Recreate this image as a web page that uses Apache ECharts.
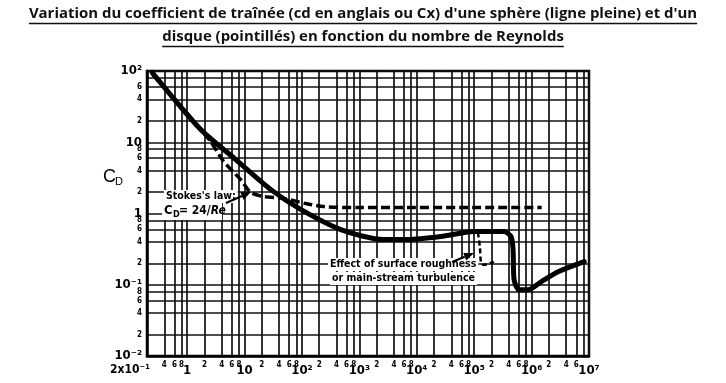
<!DOCTYPE html>
<html><head><meta charset="utf-8">
<script src="https://cdn.jsdelivr.net/npm/echarts@6/dist/echarts.min.js"></script>
<style>html,body{margin:0;padding:0;background:#fff}#c{width:726px;height:383px}</style>
</head><body><div id="c"></div>
<script>
// ---------- data ----------
const titleLines = [
  "Variation du coefficient de traînée (cd en anglais ou Cx) d'une sphère (ligne pleine) et d'un",
  "disque (pointillés) en fonction du nombre de Reynolds"
];
const xTicks = [0.2,0.4,0.6,0.8,1,2,4,6,8,10,20,40,60,80,100,200,400,600,800,1e3,2e3,4e3,6e3,8e3,1e4,2e4,4e4,6e4,8e4,1e5,2e5,4e5,6e5,8e5,1e6,2e6,4e6,6e6,8e6,1e7];
const xTickLabels = ['2x10⁻¹','4','6','8','1','2','4','6','8','10','2','4','6','8','10²','2','4','6','8','10³','2','4','6','8','10⁴','2','4','6','8','10⁵','2','4','6','8','10⁶','2','4','6','8','10⁷'];
const yTicks = [0.01,0.02,0.04,0.06,0.08,0.1,0.2,0.4,0.6,0.8,1,2,4,6,8,10,20,40,60,80,100];
const yTickLabels = ['10⁻²','2','4','6','8','10⁻¹','2','4','6','8','1','2','4','6','8','10','2','4','6','8','10²'];

// sphere (solid line)
const sphereRe = [0.245, 1.71, 6.96, 28.4, 94.9, 473, 2670, 7000, 26400, 99300, 331000, 439000, 476000, 495000, 605000, 869000, 1.47e6, 2.9e6, 8.26e6];
const sphereCd = [95.9, 15.2, 5.76, 2.18, 1.14, 0.595, 0.43, 0.43, 0.474, 0.558, 0.558, 0.474, 0.311, 0.118, 0.085, 0.085, 0.110, 0.152, 0.211];
// disk (dashed line)
const diskRe = [0.25, 1.14, 2.55, 4.3, 8.5, 12.7, 20.6, 48, 116, 240, 940, 1.5e6];
const diskCd = [90, 22.5, 10.3, 5.4, 3.01, 1.98, 1.74, 1.63, 1.38, 1.25, 1.21, 1.21];
// effect of surface roughness (short dashed branch)
const roughRe = [116500, 126000, 131000, 145000, 220000];
const roughCd = [0.54, 0.33, 0.21, 0.19, 0.21];

// ---------- helpers ----------
const zip = (a, b) => a.map((v, i) => [v, b[i]]);
function tickLabel(v, ticks, labels) {
  for (let i = 0; i < ticks.length; i++) {
    if (Math.abs(Math.log10(v) - Math.log10(ticks[i])) < 1e-4) {
      const t = labels[i];
      if (i === 0 && ticks === xTicks) return '{f|' + t + '}';
      return (t.length > 1 || t === '1') ? '{d|' + t + '}' : '{m|' + t + '}';
    }
  }
  return '';
}
const labelFont = "'Liberation Sans Narrow','DejaVu Sans Condensed','Liberation Sans',sans-serif";
const richX = {
  d: {fontSize: 13, fontWeight: 'bold', fontFamily: labelFont, color: '#000', padding: [3, 0, 0, 0]},
  m: {fontSize: 8, fontWeight: 'bold', fontFamily: labelFont, color: '#000'},
  f: {fontSize: 12, fontWeight: 'bold', fontFamily: labelFont, color: '#000', padding: [3, 34, 0, 0]}
};
const richY = {
  d: {fontSize: 13, fontWeight: 'bold', fontFamily: labelFont, color: '#000'},
  m: {fontSize: 8, fontWeight: 'bold', fontFamily: labelFont, color: '#000'}
};

// title measurement
const titleFamily = "'Open Sans','Noto Sans',sans-serif";
const cv = document.createElement('canvas').getContext('2d');
cv.font = "bold 15px " + titleFamily;
const w15 = cv.measureText(titleLines[0]).width;
const titleSize = 15 * 669 / w15;
cv.font = "bold " + titleSize + "px " + titleFamily;
const tw = titleLines.map(t => cv.measureText(t).width);
const cx = 363;
const titleY = [14, 37];
const underY = [23.5, 46.5];

function arrow(x1, y1, x2, y2, len, half) {
  const dx = x2 - x1, dy = y2 - y1, L = Math.hypot(dx, dy);
  const ux = dx / L, uy = dy / L;
  const bx = x2 - ux * len, by = y2 - uy * len;
  return [
    {type: 'line', z: 120, shape: {x1: x1, y1: y1, x2: bx, y2: by}, style: {stroke: '#000', lineWidth: 2}},
    {type: 'polygon', z: 120, shape: {points: [[x2, y2], [bx - uy * half, by + ux * half], [bx + uy * half, by - ux * half]]}, style: {fill: '#000'}}
  ];
}

const graphics = [];
titleLines.forEach((t, i) => {
  graphics.push({type: 'text', z: 100, x: cx, y: titleY[i], style: {text: t, font: "bold " + titleSize + "px " + titleFamily, fill: '#111', textAlign: 'center', textVerticalAlign: 'middle'}});
  graphics.push({type: 'line', z: 100, shape: {x1: cx - tw[i] / 2, y1: underY[i], x2: cx + tw[i] / 2, y2: underY[i]}, style: {stroke: '#111', lineWidth: 1.3}});
});
// y axis name C_D
graphics.push({type: 'text', z: 100, x: 103, y: 168, style: {text: 'C', font: "18px 'Liberation Sans',sans-serif", fill: '#000'}});
graphics.push({type: 'text', z: 100, x: 115, y: 176, style: {text: 'D', font: "11px 'Liberation Sans',sans-serif", fill: '#000'}});
// Stokes annotation
graphics.push({type: 'text', z: 110, x: 164, y: 190, style: {text: "Stokes's law:", font: "bold 10.5px " + labelFont, fill: '#000', backgroundColor: '#fff', padding: [1, 2, 1, 2]}});
graphics.push({type: 'rect', z: 109, shape: {x: 162, y: 203, width: 60, height: 17}, style: {fill: '#fff'}});
graphics.push({type: 'text', z: 110, x: 164, y: 204, style: {text: 'C', font: "bold 13px " + labelFont, fill: '#000'}});
graphics.push({type: 'text', z: 110, x: 173, y: 210, style: {text: 'D', font: "bold 9px " + labelFont, fill: '#000'}});
graphics.push({type: 'text', z: 110, x: 179, y: 205, style: {text: '= 24/{i|Re}', font: "bold 12px " + labelFont, fill: '#000', rich: {i: {fontStyle: 'italic', fontWeight: 'bold', fontSize: 12, fontFamily: labelFont}}}});
graphics.push(...arrow(226, 203, 251, 192, 10, 4));
// roughness annotation
graphics.push({type: 'text', z: 110, x: 328, y: 258, style: {text: 'Effect of surface roughness', font: "bold 10.5px " + labelFont, fill: '#000', backgroundColor: '#fff', padding: [1, 2, 1, 2]}});
graphics.push({type: 'text', z: 110, x: 330, y: 272, style: {text: 'or main-stream turbulence', font: "bold 10.5px " + labelFont, fill: '#000', backgroundColor: '#fff', padding: [1, 2, 1, 2]}});
graphics.push(...arrow(452, 262, 474, 253, 10, 4));

const chart = echarts.init(document.getElementById('c'), null, {renderer: 'canvas'});
chart.setOption({
  animation: false,
  backgroundColor: '#fff',
  grid: {left: 147, right: 137, top: 71, bottom: 27, show: true, borderColor: '#000', borderWidth: 2.5, backgroundColor: 'transparent'},
  xAxis: {
    type: 'log', logBase: 10, min: 0.2, max: 1e7,
    axisLine: {show: true, lineStyle: {color: '#000', width: 2.5}},
    axisTick: {show: false, customValues: xTicks},
    axisLabel: {customValues: xTicks, margin: 5, formatter: v => tickLabel(v, xTicks, xTickLabels), rich: richX, showMinLabel: true, showMaxLabel: true, hideOverlap: false},
    splitLine: {show: true, lineStyle: {color: '#111', width: 1.7}}
  },
  yAxis: {
    type: 'log', logBase: 10, min: 0.01, max: 100,
    axisLine: {show: true, lineStyle: {color: '#000', width: 2.5}},
    axisTick: {show: false, customValues: yTicks},
    axisLabel: {customValues: yTicks, margin: 5, formatter: v => tickLabel(v, yTicks, yTickLabels), rich: richY, showMinLabel: true, showMaxLabel: true, hideOverlap: false},
    splitLine: {show: true, lineStyle: {color: '#111', width: 1.7}}
  },
  series: [
    {name: 'sphère', type: 'line', data: zip(sphereRe, sphereCd), showSymbol: false, smooth: 0.25, z: 5,
     lineStyle: {color: '#000', width: 5, cap: 'round', join: 'round'}},
    {name: 'disque', type: 'line', data: zip(diskRe, diskCd), showSymbol: false, smooth: 0.25, z: 4,
     lineStyle: {color: '#000', width: 3.5, type: [9, 4]}},
    {name: 'rugosité', type: 'line', data: zip(roughRe, roughCd), showSymbol: false, smooth: 0.25, z: 4,
     lineStyle: {color: '#000', width: 2.5, type: [5, 3]}}
  ],
  graphic: graphics
});
</script></body></html>
